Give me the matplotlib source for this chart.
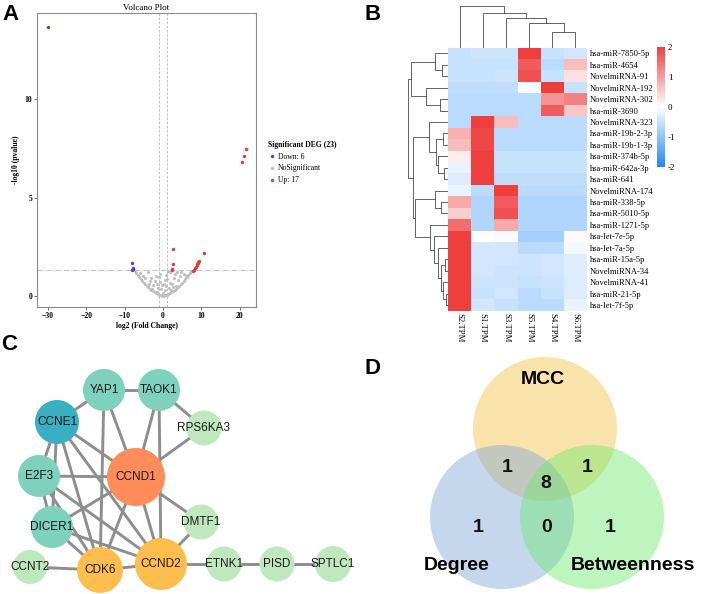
import numpy as np
import matplotlib.pyplot as plt
from matplotlib.colors import LinearSegmentedColormap
from matplotlib.patches import Circle
from matplotlib.lines import Line2D

W, H = 709, 594
SERIF = 'Liberation Serif'
SANS = 'Liberation Sans'

# ---------------- A: volcano data ----------------
down_x = [-30.0, -8.15, -7.7, -8.0, -7.85, -7.75]
down_y = [13.7, 1.69, 1.41, 1.32, 1.36, 1.38]
up_x = [20.6, 21.1, 21.6, 2.5, 2.7, 2.25, 10.7, 9.2, 8.9, 8.6, 8.1, 8.8, 8.4, 7.9, 9.0, 2.4, 9.3]
up_y = [6.8, 7.1, 7.5, 2.39, 1.62, 1.32, 2.17, 1.74, 1.62, 1.49, 1.32, 1.56, 1.40, 1.29, 1.69, 1.36, 1.78]
ns_x = [-7.4, -7.0, -6.6, -6.2, -5.8, -5.4, -5.0, -4.6, -4.2, -3.8, -3.4, -3.0, -2.6, -2.2, -1.8,
        -1.4, -1.0, -0.6, -0.2, 0.2, 0.6, 1.0, 1.4, 1.8, 2.2, 2.6, 3.0, 3.4, 3.8, 4.2, 4.6, 5.0,
        5.4, 5.8, 6.2, 6.6, 7.0, 7.4,
        -3.1, -2.5, -1.9, -1.2, -0.7, 0.4, 1.1, 1.7, 2.3, 3.1, 3.9, -4.0, -2.9, -1.6, 0.9, 2.0,
        3.4, 4.4, -0.9, 0.1, 1.3, -2.2, 2.8, -3.6, 4.8, -1.1, 0.7, 5.5, -5.2, 1.9, -0.4, 0.5,
        -6.0, -4.8, -3.3, -0.2, 0.3, 2.5, 3.7, 6.0, -1.5, 1.5]
ns_y = [1.28, 1.17, 1.06, 0.96, 0.86, 0.77, 0.68, 0.59, 0.51, 0.44, 0.37, 0.31, 0.25, 0.20, 0.15,
        0.11, 0.07, 0.04, 0.01, 0.01, 0.04, 0.07, 0.11, 0.15, 0.20, 0.25, 0.31, 0.37, 0.44, 0.51,
        0.59, 0.68, 0.77, 0.86, 0.96, 1.06, 1.17, 1.28,
        0.9, 0.55, 1.0, 0.4, 0.7, 0.3, 0.85, 1.2, 0.6, 1.1, 0.8, 1.2, 0.35, 0.2, 0.5, 0.3,
        0.5, 1.0, 1.1, 0.15, 1.25, 0.75, 0.9, 0.6, 1.2, 0.95, 1.05, 1.1, 1.0, 0.65, 0.35, 0.8,
        1.15, 0.9, 0.75, 0.55, 0.6, 0.45, 1.2, 1.0, 0.6, 0.4]

# ---------------- B: heatmap data ----------------
samples = ['S2.TPM', 'S1.TPM', 'S3.TPM', 'S5.TPM', 'S4.TPM', 'S6.TPM']
mirnas = ['hsa-miR-7850-5p', 'hsa-miR-4654', 'NovelmiRNA-91', 'NovelmiRNA-192', 'NovelmiRNA-302',
          'hsa-miR-3690', 'NovelmiRNA-323', 'hsa-miR-19b-2-3p', 'hsa-miR-19b-1-3p', 'hsa-miR-374b-5p',
          'hsa-miR-642a-3p', 'hsa-miR-641', 'NovelmiRNA-174', 'hsa-miR-338-5p', 'hsa-miR-5010-5p',
          'hsa-miR-1271-5p', 'hsa-let-7e-5p', 'hsa-let-7a-5p', 'hsa-miR-15a-5p', 'NovelmiRNA-34',
          'NovelmiRNA-41', 'hsa-miR-21-5p', 'hsa-let-7f-5p']
zscore = [
    [-0.5, -0.45, -0.45, 2.0, -0.5, -0.4],
    [-0.5, -0.5, -0.5, 1.7, -0.6, 0.7],
    [-0.5, -0.5, -0.45, 1.8, -0.5, 0.3],
    [-0.55, -0.55, -0.55, 0.0, 2.0, -0.5],
    [-0.6, -0.6, -0.6, -0.6, 1.1, 1.3],
    [-0.6, -0.6, -0.6, -0.6, 1.7, 0.6],
    [-0.6, 2.0, 0.7, -0.6, -0.6, -0.6],
    [0.8, 1.9, -0.6, -0.6, -0.6, -0.6],
    [0.7, 1.9, -0.6, -0.6, -0.6, -0.6],
    [0.2, 2.0, -0.5, -0.5, -0.5, -0.5],
    [-0.2, 2.0, -0.5, -0.5, -0.5, -0.5],
    [-0.3, 2.0, -0.55, -0.55, -0.55, -0.55],
    [-0.2, -0.6, 2.0, -0.6, -0.6, -0.6],
    [0.9, -0.7, 1.7, -0.7, -0.7, -0.7],
    [0.5, -0.7, 1.8, -0.7, -0.7, -0.7],
    [1.5, -0.7, 0.9, -0.7, -0.7, -0.7],
    [2.0, 0.0, -0.05, -0.8, -0.8, 0.05],
    [2.0, -0.4, -0.4, -0.6, -0.6, -0.1],
    [2.0, -0.4, -0.4, -0.45, -0.4, -0.3],
    [2.0, -0.4, -0.45, -0.45, -0.4, -0.3],
    [2.0, -0.45, -0.45, -0.5, -0.45, -0.3],
    [2.0, -0.5, -0.4, -0.6, -0.5, -0.3],
    [2.0, -0.4, -0.5, -0.6, -0.6, -0.2],
]
# dendrograms: (height, left, right), leaves are row/column indices
row_tree = (40,
            (37, (13, 0, (6, 1, 2)), (22, 3, (8, 4, 5))),
            (35, (19, 6, (12, (5, 7, 8), (10, 9, (4, 10, 11)))),
             (33, (13, 12, (7, 13, 14)),
              (18, 15, (14, 16, (10, 17, (7, (3, 18, 19), (5, 20, (2, 21, 22)))))))))
col_tree = (42, 0, (35, 1, (30, 2, (25, 3, (16, 4, 5)))))

# ---------------- C: network data ----------------
genes = ['YAP1', 'TAOK1', 'CCNE1', 'RPS6KA3', 'E2F3', 'CCND1', 'DMTF1', 'DICER1',
         'CCNT2', 'CDK6', 'CCND2', 'ETNK1', 'PISD', 'SPTLC1']
gene_x = [104, 159, 57, 204, 39, 136, 201, 52, 30, 100, 161, 224, 277, 333]
gene_y = [390, 390, 422, 428, 476, 477, 522, 527, 567, 570, 564, 564, 564, 564]
gene_r = [21, 21, 22, 17.5, 21, 29, 17.5, 21, 17, 23, 26, 17.5, 17.5, 18]
gene_col = ['#7ED1BA', '#7ED1BA', '#3AAFC4', '#BFE8BE', '#7ED1BA', '#FF8C5A', '#BFE8BE',
            '#7ED1BA', '#BFE8BE', '#FDBE4E', '#FDBE4E', '#BFE8BE', '#BFE8BE', '#BFE8BE']
links = [('YAP1', 'TAOK1'), ('YAP1', 'CCNE1'), ('YAP1', 'CCND1'), ('YAP1', 'CDK6'),
         ('TAOK1', 'RPS6KA3'), ('TAOK1', 'CCND1'), ('TAOK1', 'CCND2'), ('RPS6KA3', 'CCND1'),
         ('CCNE1', 'E2F3'), ('CCNE1', 'DICER1'), ('CCNE1', 'CDK6'), ('CCNE1', 'CCND2'),
         ('CCNE1', 'CCND1'), ('E2F3', 'CCND1'), ('E2F3', 'DICER1'), ('E2F3', 'CDK6'),
         ('E2F3', 'CCND2'), ('DICER1', 'CCND1'), ('DICER1', 'CDK6'), ('DICER1', 'CCND2'),
         ('CCND1', 'CDK6'), ('CCND1', 'CCND2'), ('CCND1', 'DMTF1'), ('CCND2', 'DMTF1'),
         ('CDK6', 'CCND2'), ('CCNT2', 'CDK6'), ('CCND2', 'ETNK1'), ('ETNK1', 'PISD'),
         ('PISD', 'SPTLC1')]

# ---------------- D: venn data ----------------
sets = ['MCC', 'Degree', 'Betweenness']
set_cx = [545, 502, 592]
set_cy = [429, 517, 517]
set_col = ['#F5C243', '#7FA8D8', '#6FE86F']
region_count = [1, 1, 8, 1, 0, 1]
region_x = [507, 587, 546, 478, 547, 610]
region_y = [468, 468, 483, 528, 528, 528]


fig = plt.figure(figsize=(W / 100, H / 100), dpi=100)


def ax_px(l, t, w, h):
    return fig.add_axes([l / W, 1 - (t + h) / H, w / W, h / H])


# ---------- A ----------
ax = ax_px(37, 13, 219, 294)
ax.scatter(ns_x, ns_y, s=5, color='#C0C0C0', lw=0, zorder=2)
ax.scatter(down_x, down_y, s=6, color='#4646D8', lw=0, zorder=3)
ax.scatter(up_x, up_y, s=6, color='#E03C3C', lw=0, zorder=3)
ax.axvline(-1, color='#B5B5B5', ls=(0, (3, 2)), lw=0.6, zorder=1)
ax.axvline(1, color='#B5B5B5', ls=(0, (3, 2)), lw=0.6, zorder=1)
ax.axhline(-np.log10(0.05), color='#B5B5B5', ls='-.', lw=0.6, zorder=1)
ax.set_xlim(-32.8, 24.2)
ax.set_ylim(-0.56, 14.4)
ax.set_xticks([-30, -20, -10, 0, 10, 20])
ax.set_yticks([0, 5, 10])
for sp in ax.spines.values():
    sp.set_color('#8A8A8A')
    sp.set_linewidth(0.8)
ax.tick_params(length=2, width=0.6, color='#555555', pad=1.5)
for lab in ax.get_xticklabels() + ax.get_yticklabels():
    lab.set_family(SERIF)
    lab.set_fontweight('bold')
    lab.set_fontsize(5.5)
ax.set_title('Volcano Plot', family=SERIF, fontsize=6.5, pad=2)
ax.set_xlabel('log2 (Fold Change)', family=SERIF, fontweight='bold', fontsize=5.5, labelpad=1.5)
ax.set_ylabel('-log10 (pvalue)', family=SERIF, fontweight='bold', fontsize=5.5, labelpad=3)
handles = [Line2D([], [], ls='', marker='o', ms=2.5, mec='none', color=c)
           for c in ['#4646D8', '#C0C0C0', '#E03C3C']]
leg = fig.legend(handles, ['Down: 6', 'NoSignificant', 'Up: 17'], loc='upper left',
                 bbox_to_anchor=(264 / W, 1 - 137 / H), frameon=False, title='Significant DEG (23)',
                 prop={'family': SERIF, 'size': 5.5}, handletextpad=0.1, labelspacing=0.5,
                 borderpad=0, handlelength=1.2)
leg.get_title().set_fontproperties({'family': SERIF, 'size': 5.5, 'weight': 'bold'})
leg._legend_box.align = 'left'

# ---------- B ----------
hm_l, hm_t, hm_w, hm_h = 448, 47.6, 139, 263.1
cmap = LinearSegmentedColormap.from_list('bwr2', ['#1E88F5', '#FFFFFF', '#EE3E3E'])
axh = ax_px(hm_l, hm_t, hm_w, hm_h)
mesh = axh.pcolormesh(np.array(zscore), cmap=cmap, vmin=-2, vmax=2)
axh.set_xlim(0, len(samples))
axh.set_ylim(len(mirnas), 0)
for sp in axh.spines.values():
    sp.set_visible(False)
axh.yaxis.tick_right()
axh.set_yticks(np.arange(len(mirnas)) + 0.5)
axh.set_yticklabels(mirnas, family=SERIF, fontsize=6.1)
axh.set_xticks(np.arange(len(samples)) + 0.5)
axh.set_xticklabels(samples, family=SERIF, fontsize=6.3, rotation=270)
axh.tick_params(length=0, pad=2)


def draw_tree(a, node, orient):
    if isinstance(node, int):
        return node + 0.5, 0
    h, left, right = node
    p1, h1 = draw_tree(a, left, orient)
    p2, h2 = draw_tree(a, right, orient)
    if orient == 'row':
        a.plot([h1, h, h, h2], [p1, p1, p2, p2], color='#4A4A4A', lw=0.6)
    else:
        a.plot([p1, p1, p2, p2], [h1, h, h, h2], color='#4A4A4A', lw=0.6)
    return (p1 + p2) / 2, h


axr = ax_px(hm_l - 42, hm_t, 42, hm_h)
draw_tree(axr, row_tree, 'row')
axr.set_xlim(42, 0)
axr.set_ylim(len(mirnas), 0)
axr.axis('off')

axc = ax_px(hm_l, hm_t - 43.6, hm_w, 43.6)
draw_tree(axc, col_tree, 'col')
axc.set_xlim(0, len(samples))
axc.set_ylim(0, 43.6)
axc.axis('off')

cax = ax_px(657, 47, 8, 120)
cb = fig.colorbar(mesh, cax=cax, ticks=[-2, -1, 0, 1, 2])
cb.outline.set_visible(False)
cb.ax.tick_params(length=0, pad=2)
cb.ax.set_yticklabels(['-2', '-1', '0', '1', '2'], family=SERIF, fontsize=6.5)

# ---------- C ----------
axn = ax_px(0, 330, 360, 264)
axn.set_xlim(0, 360)
axn.set_ylim(594, 330)
axn.axis('off')
idx = {g: i for i, g in enumerate(genes)}
for a, b in links:
    i, j = idx[a], idx[b]
    axn.plot([gene_x[i], gene_x[j]], [gene_y[i], gene_y[j]], color='#8E8E8E', lw=2.1, zorder=1)
for i, g in enumerate(genes):
    axn.add_patch(Circle((gene_x[i], gene_y[i]), gene_r[i], color=gene_col[i], lw=0, zorder=2))
    axn.text(gene_x[i], gene_y[i], g, ha='center', va='center', family=SANS, fontsize=8.5,
             color='#1A1A1A', zorder=3)

# ---------- D ----------
axv = ax_px(360, 330, 349, 264)
axv.set_xlim(360, 709)
axv.set_ylim(594, 330)
axv.axis('off')
for i in range(3):
    axv.add_patch(Circle((set_cx[i], set_cy[i]), 72, color=set_col[i], alpha=0.45, lw=0))
for n, x, y in zip(region_count, region_x, region_y):
    axv.text(x, y, str(n), ha='center', va='center', family=SANS, fontweight='bold',
             fontsize=14, color='#111111')
axv.text(543, 380, sets[0], ha='center', va='center', family=SANS, fontweight='bold', fontsize=14)
axv.text(457, 565, sets[1], ha='center', va='center', family=SANS, fontweight='bold', fontsize=14)
axv.text(633, 565, sets[2], ha='center', va='center', family=SANS, fontweight='bold', fontsize=14)

# panel letters
for letter, x, y in [('A', 2, 4), ('B', 365, 4), ('C', 1, 334), ('D', 365, 358)]:
    fig.text(x / W, 1 - y / H, letter, ha='left', va='top', family=SANS, fontweight='bold',
             fontsize=16)

plt.savefig('out.png', dpi=100)
plt.close()
